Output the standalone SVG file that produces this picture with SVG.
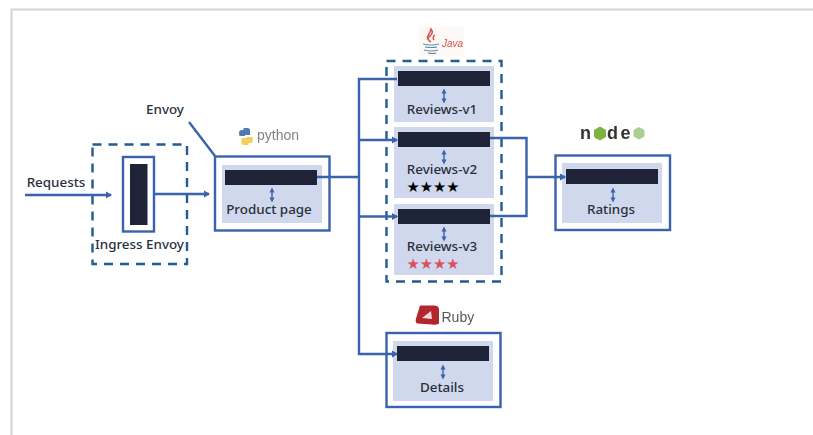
<svg xmlns="http://www.w3.org/2000/svg" width="813" height="435" viewBox="0 0 813 435">
<style>
.t{font-family:"Noto Sans","Liberation Sans",sans-serif;font-size:13.400px;font-weight:500;fill:#2a2f3c;text-anchor:middle}
.outer{fill:#fff;stroke:#3a62ad;stroke-width:2.400}
.inner{fill:#cfd8ec}
.bar{fill:#1e2337}
.dash{fill:none;stroke:#235b93;stroke-width:2.400;stroke-dasharray:9 7}
.conn{fill:none;stroke:#3a62ad;stroke-width:2.400}
.mini{fill:none;stroke:#3a62ad;stroke-width:1.400;marker-start:url(#m);marker-end:url(#m)}
.stars{font-family:"DejaVu Sans",sans-serif;font-size:14.800px}
</style>
<defs>
<marker id="a" markerWidth="7" markerHeight="8" refX="5" refY="4" orient="auto" markerUnits="userSpaceOnUse"><path d="M0 0.500L6 4L0 7.500Z" fill="#3a62ad"/></marker>
<marker id="m" markerWidth="6" markerHeight="6" refX="3" refY="3" orient="auto-start-reverse" markerUnits="userSpaceOnUse"><path d="M0.500 0.500L5.500 3L0.500 5.500Z" fill="#3a62ad"/></marker>
<filter id="soft" x="-10%" y="-10%" width="120%" height="120%"><feGaussianBlur stdDeviation="0.400"/></filter>
</defs>
<g id="frame"><path d="M813 9.500H11.500V435" fill="none" stroke="#d0d3dc" stroke-width="2"/></g>

<g id="ingress">
<rect class="dash" x="92.500" y="144.500" width="94.500" height="119.500"/>
<rect class="outer" x="123" y="157" width="31" height="74.500"/>
<rect class="bar" x="130" y="164" width="17.500" height="61"/>
<text class="t" x="139.500" y="249">Ingress Envoy</text>
</g>
<g id="requests-label"><text class="t" x="56" y="187">Requests</text></g>
<g id="envoy-label"><text class="t" x="165" y="114">Envoy</text></g>

<g id="product">
<rect class="outer" x="215" y="156.500" width="114.500" height="74"/>
<rect class="inner" x="222" y="165" width="100" height="58"/>
<rect class="bar" x="225" y="170" width="92" height="15"/>
<path class="mini" d="M272 190V200"/>
<text class="t" x="269" y="214">Product page</text>
</g>

<g id="reviews-group"><rect class="dash" x="386.500" y="61" width="115" height="220.500"/></g>
<g id="reviews-v1">
<rect class="inner" x="394" y="66" width="100" height="56"/>
<rect class="bar" x="398" y="71" width="92" height="15"/>
<path class="mini" d="M444 91V101"/>
<text class="t" x="442" y="114">Reviews-v1</text>
</g>
<g id="reviews-v2">
<rect class="inner" x="394" y="127" width="100" height="71"/>
<rect class="bar" x="398" y="132" width="92" height="15"/>
<path class="mini" d="M444 152V162"/>
<text class="t" x="442" y="174">Reviews-v2</text>
<text class="stars" x="406.500" y="192" fill="#000">★★★★</text>
</g>
<g id="reviews-v3">
<rect class="inner" x="394" y="204" width="100" height="71"/>
<rect class="bar" x="398" y="209" width="92" height="15"/>
<path class="mini" d="M444 229V239"/>
<text class="t" x="442" y="251">Reviews-v3</text>
<text class="stars" x="406.500" y="269" fill="#d9505f">★★★★</text>
</g>

<g id="ratings">
<rect class="outer" x="555.500" y="155.500" width="114.500" height="74.500"/>
<rect class="inner" x="562" y="163" width="100" height="60"/>
<rect class="bar" x="566" y="169" width="92" height="15"/>
<path class="mini" d="M613 190V200"/>
<text class="t" x="611" y="214">Ratings</text>
</g>

<g id="details">
<rect class="outer" x="386.500" y="333" width="114" height="74"/>
<rect class="inner" x="393" y="341" width="100" height="60"/>
<rect class="bar" x="397" y="346" width="92" height="15"/>
<path class="mini" d="M443 367V377"/>
<text class="t" x="442" y="392">Details</text>
</g>

<g id="connectors">
<path class="conn" d="M25 195H111" marker-end="url(#a)"/>
<path class="conn" d="M154 194H209" marker-end="url(#a)"/>
<path class="conn" d="M189 122L215 156"/>
<path class="conn" d="M317 177H359"/>
<path class="conn" d="M397 79H359V354H397" marker-end="url(#a)"/>
<path class="conn" d="M359 140H397" marker-end="url(#a)"/>
<path class="conn" d="M359 216.500H397" marker-end="url(#a)"/>
<path class="conn" d="M490 138H526.500V216H490"/>
<path class="conn" d="M526.500 177H565" marker-end="url(#a)"/>
</g>

<g id="python-logo" filter="url(#soft)">
<path d="M243.500 128h4q2.500 0 2.500 2v5h-5v1h-5.500q-1.500-6 2-6h2z" fill="#4b7cb3"/>
<path d="M252.500 137q1.500 6-2 6h-2v2h-4.500q-2.500 0-2.500-2v-5h5v-1z" fill="#f0cf5c"/>
<text x="257" y="140" font-family="'Liberation Sans',sans-serif" font-size="14" fill="#7f8388">python</text>
</g>
<g id="java-logo" filter="url(#soft)">
<rect x="419" y="27" width="45" height="29" fill="#fbf8f6"/>
<path d="M431 29q3 4-1 7t1 6q-5-3-3-6t3-7zM435 35q-3 2-1 5" fill="none" stroke="#d9534f" stroke-width="1.500"/>
<path d="M423 44q9 2 16 0M425 47q7 1 12 0M424 50q8 2 14 0M428 53q5 1 8 0" fill="none" stroke="#5b93a8" stroke-width="1.200"/>
<text x="442" y="47" font-family="'Liberation Sans',sans-serif" font-size="10" font-style="italic" fill="#d9534f">Java</text>
</g>
<g id="node-logo" filter="url(#soft)">
<text x="580" y="139" font-family="'Liberation Sans',sans-serif" font-size="18" font-weight="700" letter-spacing="2.500" fill="#33362f">node</text>
<path d="M600 126.500l6 3.500v7l-6 3.500l-6-3.500v-7z" fill="#7cb342"/>
<path d="M639 127l5.500 3v6.500l-5.500 3l-5.500-3V130z" fill="#a9cf94"/>
</g>
<g id="ruby-logo" filter="url(#soft)">
<path d="M420 305.500h14q5 0 5 4v14q-3 2-7 1l-15-1q-2-1-1-5z" fill="#b3282d"/>
<path d="M422 318l9-7l1 8z" fill="#f3dada"/>
<text x="441.500" y="322" font-family="'Liberation Sans',sans-serif" font-size="14" fill="#555a60">Ruby</text>
</g>
</svg>
